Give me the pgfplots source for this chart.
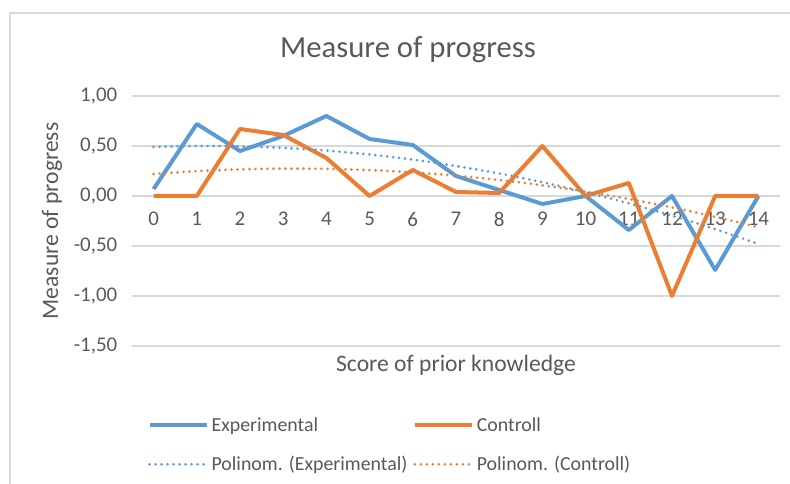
\documentclass[border=0pt]{standalone}
\usepackage{pgfplots}
\pgfplotsset{compat=1.18}
\usepackage{fontspec}
\setmainfont{Carlito}
\definecolor{cblue}{HTML}{5B9BD5}
\definecolor{corange}{HTML}{ED7D31}
\definecolor{ctext}{HTML}{595959}
\definecolor{cgrid}{HTML}{D9D9D9}
\begin{document}
\begin{tikzpicture}
\begin{axis}[
  scale only axis,
  width=486pt, height=187.5pt,
  xmin=-0.5, xmax=14.5, ymin=-1.5, ymax=1.0,
  axis x line=middle, axis y line=left,
  axis line style={draw=none},
  xtick={0,...,14}, ytick={-1.5,-1,-0.5,0,0.5,1},
  major tick length=0pt,
  ymajorgrids, grid style={cgrid, line width=1pt},
  /pgf/number format/assume math mode=true,
  x tick label style={font=\fontsize{15.7}{18}\selectfont, text=ctext, anchor=north, yshift=-8.5pt},
  y tick label style={font=\fontsize{15.7}{18}\selectfont, text=ctext, anchor=east, xshift=-7.5pt,
     /pgf/number format/.cd, fixed, fixed zerofill, precision=2, use comma, /tikz/.cd},
  title={Measure of progress},
  title style={at={(axis description cs:0.426,1.152)}, anchor=center, font=\fontsize{23}{27}\selectfont, text=ctext},
  ylabel={Measure of progress},
  ylabel style={at={(axis description cs:-0.1235,0.5)}, anchor=center, rotate=0, font=\fontsize{17.7}{21}\selectfont, text=ctext},
  xlabel={Score of prior knowledge},
  xlabel style={at={(axis description cs:0.5,-0.076)}, anchor=center, font=\fontsize{17.7}{21}\selectfont, text=ctext},
  legend columns=2,
  legend cell align=left,
  legend image code/.code={\draw[#1] (0pt,0pt) -- (43pt,0pt);},
  legend style={draw=none, fill=none, at={(axis description cs:0.0175,-0.264)}, anchor=north west,
     font=\fontsize{14.9}{17}\selectfont, text=ctext, row sep=13pt,
     /tikz/every even column/.append style={column sep=2pt}},
]
\addplot[cblue, line width=3pt, line join=round] coordinates {
 (0,0.07) (1,0.72) (2,0.45) (3,0.60) (4,0.80) (5,0.57) (6,0.51) (7,0.20)
 (8,0.06) (9,-0.08) (10,0.00) (11,-0.34) (12,0.00) (13,-0.74) (14,0.00)};
\addlegendentry{Experimental}
\addplot[corange, line width=3pt, line join=round] coordinates {
 (0,0.00) (1,0.00) (2,0.67) (3,0.61) (4,0.38) (5,0.00) (6,0.26) (7,0.04)
 (8,0.03) (9,0.50) (10,0.00) (11,0.13) (12,-1.00) (13,0.00) (14,0.00)};
\addlegendentry{Controll}
\addplot[cblue, line width=2.2pt, line cap=round, dash pattern=on 0pt off 4.5pt, smooth] coordinates {
 (0,0.491) (1,0.500) (2,0.497) (3,0.481) (4,0.454) (5,0.415) (6,0.364) (7,0.300)
 (8,0.225) (9,0.138) (10,0.038) (11,-0.073) (12,-0.197) (13,-0.332) (14,-0.479)};
\addlegendentry{Polinom. (Experimental)}
\addplot[corange, line width=2.2pt, line cap=round, dash pattern=on 0pt off 4.5pt, smooth] coordinates {
 (0,0.220) (1,0.248) (2,0.266) (3,0.274) (4,0.271) (5,0.259) (6,0.236) (7,0.203)
 (8,0.160) (9,0.107) (10,0.043) (11,-0.030) (12,-0.114) (13,-0.208) (14,-0.312)};
\addlegendentry{Polinom. (Controll)}
\end{axis}
\draw[cgrid, line width=1.2pt] (-91.5pt,-110pt) -- (-91.5pt,249.75pt) -- (500pt,249.75pt);
\pgfresetboundingbox
\path[use as bounding box] (-99pt,-103.5pt) rectangle (493.5pt,259.5pt);
\end{tikzpicture}
\end{document}
